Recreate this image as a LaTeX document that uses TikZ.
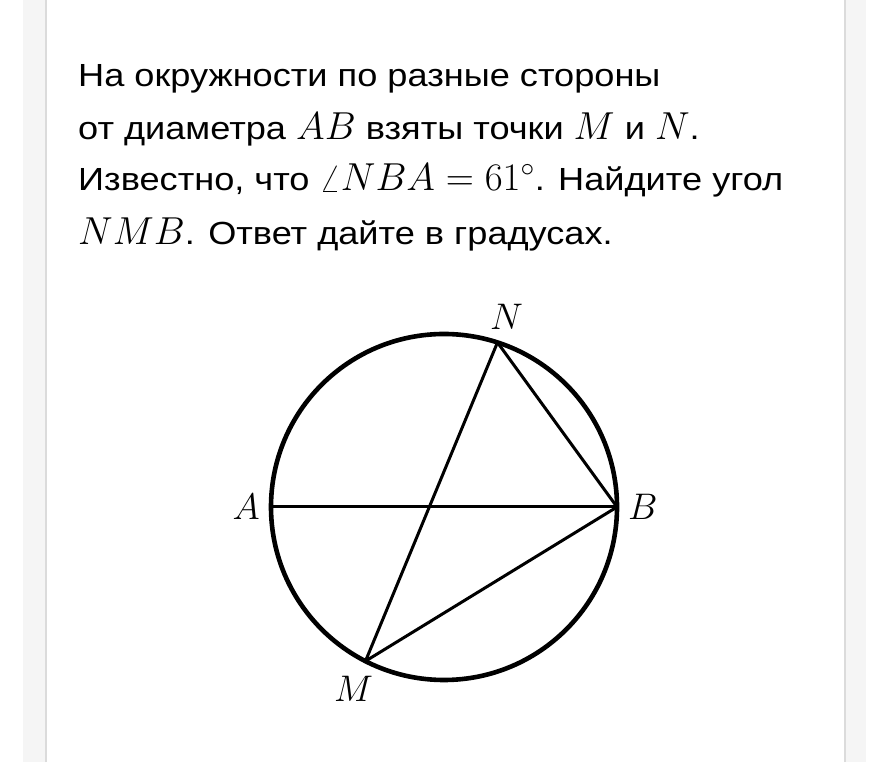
\RequirePackage{fix-cm}
\documentclass[tikz,border=0pt]{standalone}
\usepackage{fontspec}
\setmainfont{Liberation Sans}[FakeStretch=1.13]
\usetikzlibrary{positioning}

% math in the text is set a bit larger than the text
\newcommand{\mth}[1]{{\fontsize{39}{40}\selectfont$#1$}}

\begin{document}
\begin{tikzpicture}[x=1pt,y=1pt]
  \tikzstyle{textLine} = [anchor=base west, inner sep=0pt, font={\fontsize{32}{38}\selectfont}]
  \tikzstyle{pointLabel} = [inner sep=0pt, font={\fontsize{37}{40}\selectfont}]
  \tikzstyle{circleEdge} = [black, line width=4.6pt];
  \tikzstyle{chordEdge} = [black, line width=3pt];

  % page with grey side bands
  \useasboundingbox (0,0) rectangle (890,762);
  \fill[white] (0,0) rectangle (890,762);
  \fill[black!4] (23,0) rectangle (46,762);
  \fill[black!4] (845,0) rectangle (866,762);
  \draw[black!14, line width=1.2pt] (46,0) -- (46,762);
  \draw[black!14, line width=1.2pt] (845,0) -- (845,762);

  % problem text
  \node[textLine] (l1) at (78,675) {На окружности по разные стороны};
  \node[textLine] (l2) at (78,622) {от диаметра \mth{AB} взяты точки \mth{M} и \mth{N}.};
  \node[textLine] (l3) at (78,571) {Известно, что \mth{\angle NBA=61^\circ}. Найдите угол};
  \node[textLine] (l4) at (78,517) {\mth{NMB}. Ответ дайте в градусах.};

  % circle and points
  \coordinate (O) at (444,255);
  \coordinate (A) at ([shift={(O)}] 180:173pt);
  \coordinate (B) at ([shift={(O)}] 0:173pt);
  \coordinate (N) at ([shift={(O)}] 72:173pt);
  \coordinate (M) at ([shift={(O)}] 243:173pt);

  \draw[circleEdge] (O) circle (173pt);
  \draw[chordEdge] (A) -- (B);
  \draw[chordEdge, line join=round] (N) -- (M) -- (B) -- cycle;

  \node[pointLabel, left=11pt of A]                  (lA) {$A$};
  \node[pointLabel, right=11pt of B]                 (lB) {$B$};
  \node[pointLabel, above=13pt of N, xshift=9pt]     (lN) {$N$};
  \node[pointLabel, below=15pt of M, xshift=-12pt]   (lM) {$M$};
\end{tikzpicture}
\end{document}
